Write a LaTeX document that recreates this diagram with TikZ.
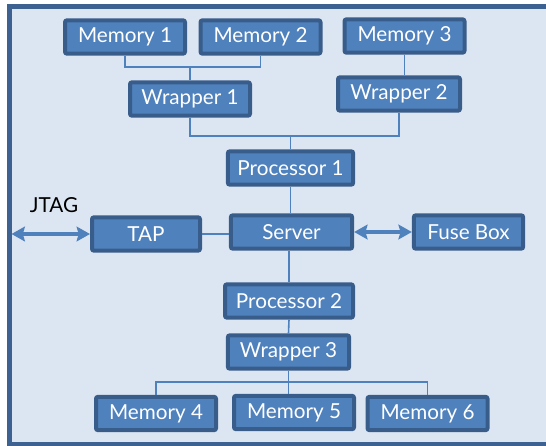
\documentclass[tikz,border=0pt]{standalone}
\usepackage{fontspec}
\setmainfont{Lato}
\usetikzlibrary{arrows.meta}
\definecolor{panel}{HTML}{DCE6F2}
\definecolor{frame}{HTML}{3D6291}
\definecolor{block}{HTML}{4F81BD}
\definecolor{blockEdge}{HTML}{385D8A}
\definecolor{wire}{HTML}{4F81BD}
\tikzset{
  >={Stealth[length=10pt, width=11pt, inset=1.5pt]},
  box/.style={draw=blockEdge, fill=block, line width=3pt, rounded corners=1.5pt,
    minimum width=#1, minimum height=25pt, inner sep=0pt, text=white,
    font=\fontsize{15.5}{18}\selectfont},
  box/.default=90pt,
  link/.style={draw=wire, line width=1.2pt},
  port/.style={<->, draw=wire, line width=2.3pt},
  lbl/.style={font=\fontsize{15.5}{18}\selectfont, text=black, inner sep=0pt},
}

\begin{document}
\begin{tikzpicture}[x=0.75pt, y=-0.75pt]

  % ---------------------------------------------------------------- panel
  \useasboundingbox (0, 0) rectangle (546, 446);
  \fill[panel] (9.5, 6.5) rectangle (546, 446);
  \draw[frame, line width=3.2pt] (546, 6.5) -- (9.5, 6.5) -- (9.5, 444.5) -- (546, 444.5);

  % ---------------------------------------------------------------- upper memories
  \node[box] (mem1) at (125, 37) {Memory 1};
  \node[box] (mem2) at (260.5, 37) {Memory 2};
  \node[box] (mem3) at (404.5, 36) {Memory 3};

  \node[box] (wrap1) at (190, 99) {Wrapper 1};
  \node[box=91.5pt] (wrap2) at (399, 94) {Wrapper 2};

  \coordinate (topbus) at (190, 67);
  \draw[link] (mem1.south) |- (topbus) -| (mem2.south);
  \draw[link] (topbus) -- (wrap1.north);
  \draw[link] (mem3.south) -- (mem3.south |- wrap2.north);

  \node[box=94pt] (proc1) at (290.5, 168) {Processor 1};
  \coordinate (midbus) at (290.5, 136);
  \draw[link] (wrap1.south) |- (midbus) -| (wrap2.south);
  \draw[link] (midbus) -- (proc1.north);

  % ---------------------------------------------------------------- server row
  \node[lbl] (jtag) at (54, 205) {JTAG};
  \node[box=81pt] (tap) at (146, 234) {TAP};
  \node[box=91pt] (server) at (291.5, 232) {Server};
  \node[box=82pt] (fuse) at (468.5, 232) {Fuse Box};

  \coordinate (edge) at (11.5, 234);
  \draw[port] (edge) -- (tap.west);
  \draw[link] (tap.east) -- (tap.east -| server.west);
  \draw[port] (server.east) -- (fuse.west);
  \draw[link] (proc1.south) -- (proc1.south |- server.north);

  % ---------------------------------------------------------------- lower memories
  \node[box=96pt] (proc2) at (289, 301) {Processor 2};
  \node[box=91pt] (wrap3) at (288.5, 352) {Wrapper 3};
  \draw[link] (server.south -| proc2.north) -- (proc2.north);
  \draw[link] (proc2.south) -- (wrap3.north);

  \node[box] (mem4) at (156, 413.5) {Memory 4};
  \node[box] (mem5) at (294, 412.5) {Memory 5};
  \node[box] (mem6) at (427.5, 413.5) {Memory 6};

  \coordinate (lowbus) at (290, 382);
  \draw[link] (wrap3.south) -- (wrap3.south |- mem5.north);
  \draw[link] (mem4.north) |- (lowbus) -| (mem6.north);

\end{tikzpicture}
\end{document}
